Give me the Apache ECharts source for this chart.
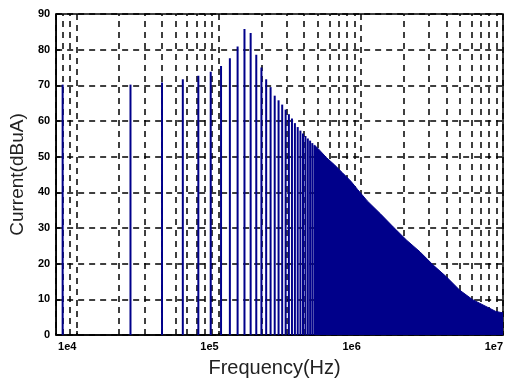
<!DOCTYPE html>
<html>
<head>
<meta charset="utf-8">
<script src="https://cdn.jsdelivr.net/npm/echarts@6/dist/echarts.min.js"></script>
<style>
  html, body { margin: 0; padding: 0; background: #fff; }
  #chart { width: 506px; height: 383px; }
</style>
</head>
<body>
<div id="chart"></div>
<script>
// Individual spectral lines (odd harmonics), Hz and dBuA
const lineFreqs = [8e3, 24e3, 40e3, 56e3, 72e3, 88e3, 104e3, 120e3, 136e3, 152e3,
  168e3, 184e3, 200e3, 216e3, 232e3, 248e3, 264e3, 280e3, 296e3, 312e3,
  328e3, 344e3, 360e3, 376e3, 392e3, 408e3, 424e3, 440e3, 456e3, 472e3];
const lineLevels = [70.2, 70.2, 70.8, 71.7, 72.7, 73.8, 75.4, 77.6, 80.9, 85.8,
  84.7, 78.6, 75.0, 71.7, 69.5, 67.1, 65.8, 64.6, 63.2, 61.9,
  60.7, 59.4, 58.3, 57.3, 56.5, 55.8, 55.1, 54.5, 53.8, 53.2];

// Envelope of the dense (merged) part of the spectrum
const denseFreqs = [472e3, 500e3, 571e3, 653e3, 746e3, 852e3, 949e3, 1.11e6, 1.38e6, 1.70e6,
  2.11e6, 2.61e6, 3.23e6, 4.0e6, 4.95e6, 6.12e6, 7.59e6, 8.9e6, 1.0e7];
const denseLevels = [53.2, 52.3, 49.8, 47.7, 45.4, 43.1, 40.8, 37.6, 33.9, 30.2,
  26.5, 23.3, 19.6, 16.3, 12.6, 9.9, 8.0, 6.6, 6.2];

// Axis ticks
const xTickValues = [1e4, 1e5, 1e6, 1e7];
const xTickLabels = ['1e4', '1e5', '1e6', '1e7'];
const xMinorGrid = [8e3, 9e3, 2e4, 3e4, 4e4, 5e4, 6e4, 7e4, 8e4, 9e4,
  2e5, 3e5, 4e5, 5e5, 6e5, 7e5, 8e5, 9e5,
  2e6, 3e6, 4e6, 5e6, 6e6, 7e6, 8e6, 9e6];
const yTicks = [0, 10, 20, 30, 40, 50, 60, 70, 80, 90];

const navy = '#00008a';
const gridDash = { color: '#000', width: 1.5, type: [6, 5] };

const chart = echarts.init(document.getElementById('chart'), null, { renderer: 'canvas' });
chart.setOption({
  animation: false,
  backgroundColor: '#fff',
  grid: {
    left: 51, right: 2, top: 14, bottom: 44,
    show: true, borderColor: '#000', borderWidth: 1.5, backgroundColor: '#fff'
  },
  xAxis: {
    type: 'log',
    logBase: 10,
    min: 7200,
    max: 1e7,
    name: 'Frequency(Hz)',
    nameLocation: 'middle',
    nameGap: 23,
    nameTextStyle: { fontFamily: 'Liberation Sans', fontSize: 20, color: '#222', padding: [0, 10, 0, 0] },
    axisLine: { lineStyle: { color: '#000', width: 1.5 } },
    axisTick: { show: true, inside: true, length: 4, lineStyle: { color: '#000', width: 1.5 } },
    axisLabel: {
      showMinLabel: false,
      align: 'right',
      margin: 6,
      fontFamily: 'Liberation Sans', fontWeight: 'bold', fontSize: 11, color: '#000',
      formatter: function (v) {
        const i = xTickValues.findIndex(t => Math.abs(t - v) / t < 1e-6);
        return i >= 0 ? xTickLabels[i] : '';
      }
    },
    splitLine: { show: true, lineStyle: gridDash }
  },
  yAxis: {
    type: 'value',
    min: yTicks[0],
    max: yTicks[yTicks.length - 1],
    interval: 10,
    name: 'Current(dBuA)',
    nameLocation: 'middle',
    nameGap: 25,
    nameTextStyle: { fontFamily: 'Liberation Sans', fontSize: 19, color: '#222' },
    axisLine: { show: true, lineStyle: { color: '#000', width: 1.5 } },
    axisTick: { show: true, inside: true, length: 4, lineStyle: { color: '#000', width: 1.5 } },
    axisLabel: {
      margin: 6,
      fontFamily: 'Liberation Sans', fontWeight: 'bold', fontSize: 11, color: '#000'
    },
    splitLine: { show: true, lineStyle: gridDash }
  },
  series: [
    {
      type: 'line',
      data: [],
      z: 1,
      silent: true,
      markLine: {
        z: 1,
        silent: true,
        symbol: 'none',
        animation: false,
        label: { show: false },
        lineStyle: gridDash,
        emphasis: { disabled: true },
        data: xMinorGrid.map(v => ({ xAxis: v }))
      }
    },
    {
      type: 'bar',
      z: 3,
      barWidth: 2,
      itemStyle: { color: navy },
      data: lineFreqs.map((f, i) => [f, lineLevels[i]])
    },
    {
      type: 'line',
      z: 3,
      symbol: 'none',
      lineStyle: { color: navy, width: 1 },
      areaStyle: { color: navy, opacity: 1 },
      data: denseFreqs.map((f, i) => [f, denseLevels[i]])
    }
  ]
});
</script>
</body>
</html>
